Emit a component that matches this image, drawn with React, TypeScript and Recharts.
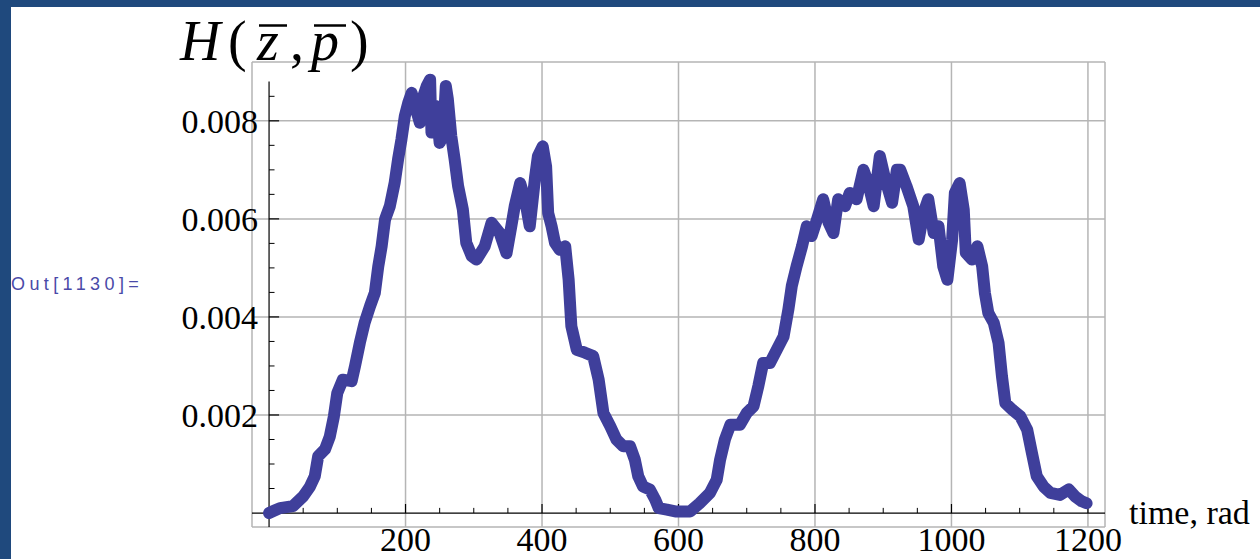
import React from 'react';
import { LineChart, Line, XAxis, YAxis, CartesianGrid, ReferenceLine } from 'recharts';

// time, rad
const times = [
  0, 8, 16, 35, 50, 60, 67, 72, 82, 89, 95, 100, 108, 121, 126, 133, 140, 148, 155, 160,
  165, 170, 177, 184, 189, 194, 199, 204, 209, 214, 221, 226, 231, 236, 238, 245, 250, 255, 259, 262,
  267, 272, 277, 284, 289, 297, 304, 316, 326, 338, 348, 355, 360, 368, 375, 382, 390, 394, 401, 406,
  409, 414, 419, 426, 434, 439, 443, 451, 463, 475, 483, 490, 500, 509, 519, 529, 536, 541, 548, 558,
  566, 571, 583, 597, 612, 617, 631, 646, 656, 661, 668, 676, 690, 700, 710, 717, 724, 734, 744, 754,
  761, 766, 773, 781, 788, 795, 803, 812, 820, 827, 834, 844, 851, 861, 871, 878, 886, 895, 903, 913,
  920, 925, 934, 944, 952, 959, 966, 974, 981, 988, 994, 1001, 1005, 1012, 1018, 1021, 1030, 1038, 1045, 1049,
  1054, 1062, 1069, 1074, 1079, 1089, 1101, 1111, 1118, 1125, 1135, 1145, 1159, 1172, 1181, 1191, 1198,
];

// H(z, p)
const hValues = [
  0, 0.00005, 0.0001, 0.00014, 0.00034, 0.00054, 0.00075, 0.00116, 0.0013, 0.00156, 0.00197, 0.00245, 0.00272, 0.00269, 0.003, 0.00347, 0.00388, 0.00422, 0.00449, 0.00503,
  0.00544, 0.00599, 0.00626, 0.00673, 0.00721, 0.00762, 0.0081, 0.00837, 0.00857, 0.0083, 0.00796, 0.0085, 0.00871, 0.00884, 0.00776, 0.0083, 0.00755, 0.00769, 0.00871, 0.00844,
  0.00769, 0.00721, 0.00667, 0.00619, 0.00551, 0.00524, 0.00517, 0.00544, 0.00592, 0.00571, 0.0053, 0.00585, 0.00626, 0.00673, 0.0064, 0.00585, 0.00687, 0.00728, 0.00748, 0.00707,
  0.00612, 0.00585, 0.00551, 0.00537, 0.00544, 0.00476, 0.00381, 0.00333, 0.00327, 0.0032, 0.00272, 0.00204, 0.00177, 0.0015, 0.00136, 0.00136, 0.00109, 0.00075, 0.00054, 0.00048,
  0.00027, 0.0001, 0.00007, 0.00003, 0.00003, 0.00003, 0.0002, 0.00041, 0.00068, 0.00109, 0.0015, 0.0018, 0.0018, 0.00204, 0.00218, 0.00259, 0.00306, 0.00306, 0.00333, 0.0036,
  0.00415, 0.00463, 0.00503, 0.00544, 0.00585, 0.00565, 0.00599, 0.0064, 0.00592, 0.00571, 0.0064, 0.00626, 0.00653, 0.0064, 0.007, 0.00673, 0.00626, 0.00728, 0.0068, 0.00633,
  0.007, 0.007, 0.00667, 0.00626, 0.00558, 0.00612, 0.0064, 0.00571, 0.00585, 0.00503, 0.00476, 0.00558, 0.00653, 0.00673, 0.00619, 0.00531, 0.00517, 0.00544, 0.00503, 0.00449,
  0.00408, 0.00388, 0.00347, 0.00279, 0.00224, 0.00211, 0.00197, 0.0017, 0.00122, 0.00075, 0.00054, 0.00041, 0.00037, 0.00048, 0.00034, 0.00024, 0.0002,
];

const xMajorTicks = [200, 400, 600, 800, 1000, 1200];
const xMinorTicks = [50, 100, 150, 250, 300, 350, 450, 500, 550, 650, 700, 750, 850, 900, 950, 1050, 1100, 1150];
const yMajorTicks = [0.002, 0.004, 0.006, 0.008];
const yMinorTicks = [0.0005, 0.001, 0.0015, 0.0025, 0.003, 0.0035, 0.0045, 0.005, 0.0055, 0.0065, 0.007, 0.0075, 0.0085];
const yTickLabels = ['0.002', '0.004', '0.006', '0.008'];

const X_DOMAIN: [number, number] = [-25, 1225];
const Y_DOMAIN: [number, number] = [-0.000285, 0.0092];
const Y_AXIS_TOP = 0.0088;
// tick lengths expressed in data units
const X_MAJOR_LEN = 0.000184;
const X_MINOR_LEN = 0.000105;
const Y_MAJOR_LEN = 14.7;
const Y_MINOR_LEN = 8;

const data = times.map((t, i) => ({ t, h: hValues[i] }));

const SERIF = '"Liberation Serif", "Times New Roman", serif';
const LINE_COLOR = '#3f3f9b';

const XTick = (props: any) => {
  const { x, y, payload } = props;
  return (
    <text x={x} y={y + 24} textAnchor="middle" fontFamily={SERIF} fontSize={34} fill="#000">
      {payload.value}
    </text>
  );
};

const YTick = (props: any) => {
  const { x, y, payload } = props;
  const idx = yMajorTicks.indexOf(payload.value);
  const label = idx >= 0 ? yTickLabels[idx] : String(payload.value);
  return (
    <text x={x + 6} y={y + 12} textAnchor="end" fontFamily={SERIF} fontSize={34} fill="#000">
      {label}
    </text>
  );
};

export default function App() {
  return (
    <div style={{ position: 'absolute', left: 0, top: 0, width: 1260, height: 559, background: '#1f497d', overflow: 'hidden' }}>
      <div style={{ position: 'absolute', left: 11, top: 7, width: 1249, height: 552, background: '#ffffff' }} />
      <div style={{ position: 'absolute', left: 0, top: 0 }}>
        <LineChart width={1260} height={559} data={data} margin={{ top: 62, right: 155, bottom: 0, left: 0 }}>
          <CartesianGrid stroke="#b5b5b5" strokeWidth={1.5} />
          <XAxis
            dataKey="t"
            type="number"
            domain={X_DOMAIN}
            ticks={xMajorTicks}
            axisLine={false}
            tickLine={false}
            tickSize={0}
            tickMargin={0}
            height={32}
            tick={<XTick />}
            allowDataOverflow
          />
          <YAxis
            type="number"
            domain={Y_DOMAIN}
            ticks={yMajorTicks}
            axisLine={false}
            tickLine={false}
            tickSize={0}
            tickMargin={0}
            width={252}
            tick={<YTick />}
            allowDataOverflow
          />
          <ReferenceLine y={0} stroke="#000" strokeWidth={1.2} />
          <ReferenceLine segment={[{ x: 0, y: Y_DOMAIN[0] }, { x: 0, y: Y_AXIS_TOP }]} stroke="#000" strokeWidth={1.2} />
          {xMajorTicks.map((t) => (
            <ReferenceLine key={'xM' + t} segment={[{ x: t, y: 0 }, { x: t, y: X_MAJOR_LEN }]} stroke="#000" strokeWidth={1.2} />
          ))}
          {xMinorTicks.map((t) => (
            <ReferenceLine key={'xm' + t} segment={[{ x: t, y: 0 }, { x: t, y: X_MINOR_LEN }]} stroke="#000" strokeWidth={1} />
          ))}
          {yMajorTicks.map((v) => (
            <ReferenceLine key={'yM' + v} segment={[{ x: 0, y: v }, { x: Y_MAJOR_LEN, y: v }]} stroke="#000" strokeWidth={1.2} />
          ))}
          {yMinorTicks.map((v) => (
            <ReferenceLine key={'ym' + v} segment={[{ x: 0, y: v }, { x: Y_MINOR_LEN, y: v }]} stroke="#000" strokeWidth={1} />
          ))}
          <Line
            dataKey="h"
            type="linear"
            stroke={LINE_COLOR}
            strokeWidth={12}
            strokeLinejoin="round"
            strokeLinecap="round"
            dot={false}
            isAnimationActive={false}
          />
        </LineChart>
      </div>
      <svg width={1260} height={559} style={{ position: 'absolute', left: 0, top: 0, pointerEvents: 'none' }}>
        <g fontFamily={SERIF} fontSize={56} fill="#000">
          <text x={180} y={60} fontStyle="italic">H</text>
          <text x={228} y={60}>(</text>
          <text x={257} y={60} fontStyle="italic">z</text>
          <text x={290} y={60}>,</text>
          <text x={311} y={60} fontStyle="italic">p</text>
          <text x={350} y={60}>)</text>
        </g>
        <line x1={259} y1={25.5} x2={287} y2={25.5} stroke="#000" strokeWidth={2.5} />
        <line x1={314} y1={25.5} x2={346} y2={25.5} stroke="#000" strokeWidth={2.5} />
        <text x={1129} y={524} fontFamily={SERIF} fontSize={34} fill="#000">time, rad</text>
        <text x={11} y={290} fontFamily='"Liberation Sans", Arial, sans-serif' fontSize={18} letterSpacing={4.4} fill="#4a4aa8">Out[1130]=</text>
      </svg>
    </div>
  );
}
